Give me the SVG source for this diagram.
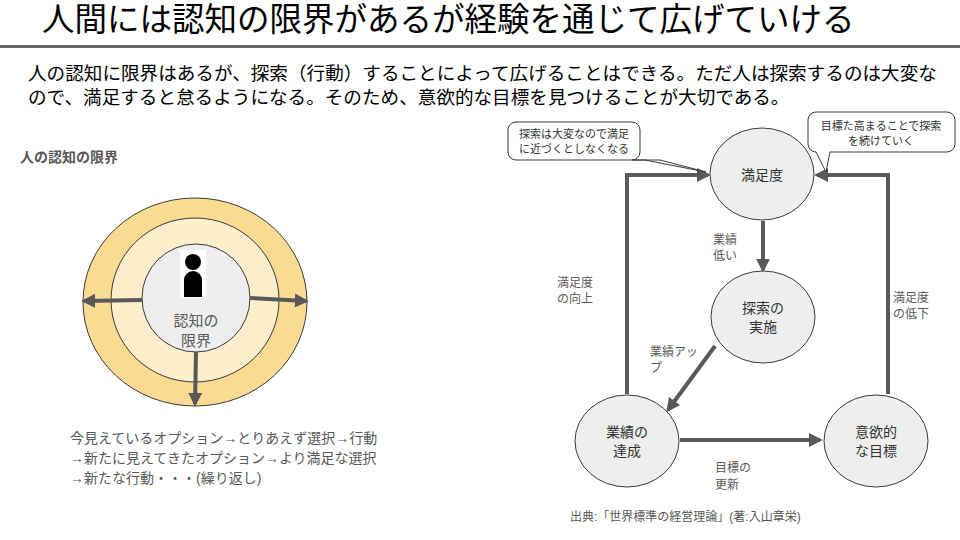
<svg xmlns="http://www.w3.org/2000/svg" width="960" height="540" viewBox="0 0 960 540">
<defs>
<style>
text{font-family:"Liberation Sans","Noto Sans CJK JP",sans-serif;fill:#595959}
.t{fill:#000}
.node{fill:#eeeeee;stroke:#3a3a3a;stroke-width:1}
.c{stroke:#595959;stroke-width:4;fill:none}
.lbl{font-size:12px}
.call{fill:#fff;stroke:#3a3a3a;stroke-width:1}
</style>
<marker id="a" viewBox="0 0 10 10" refX="8" refY="5" markerWidth="3.5" markerHeight="3.5" orient="auto"><path d="M0,0L10,5L0,10z" fill="#595959"/></marker>
</defs>
<rect width="960" height="540" fill="#fff"/>
<text class="t" x="42" y="31" font-size="32.5">人間には認知の限界があるが経験を通じて広げていける</text>
<rect x="0" y="45" width="960" height="3" fill="#666"/>
<text class="t" x="28" y="80" font-size="18.6">人の認知に限界はあるが、探索（行動）することによって広げることはできる。ただ人は探索するのは大変な</text>
<text class="t" x="28" y="104" font-size="18.6">ので、満足すると怠るようになる。そのため、意欲的な目標を見つけることが大切である。</text>
<text x="20" y="162" font-size="14" font-weight="bold">人の認知の限界</text>
<g id="cognition">
<ellipse cx="195" cy="302" rx="112" ry="104" fill="#fbdb92" stroke="#3a3a3a"/>
<ellipse cx="195" cy="300" rx="84" ry="82" fill="#fdefcb" stroke="#3a3a3a"/>
<circle cx="196" cy="298" r="54" class="node"/>
<rect x="180" y="250" width="26" height="48" fill="#fff"/>
<circle cx="193" cy="262" r="8" fill="#000"/>
<path d="M184,297V280a9,9 0 0 1 18,0V297z" fill="#000"/>
<text x="196" y="326" font-size="15" text-anchor="middle">認知の</text>
<text x="196" y="346" font-size="15" text-anchor="middle">限界</text>
<line x1="142" y1="300" x2="84" y2="301" class="c" stroke-width="3" marker-end="url(#a)"/>
<line x1="250" y1="298" x2="306" y2="301" class="c" stroke-width="3" marker-end="url(#a)"/>
<line x1="196" y1="352" x2="195" y2="404" class="c" stroke-width="3" marker-end="url(#a)"/>
</g>
<text x="70" y="443" font-size="14">今見えているオプション→とりあえず選択→行動</text>
<text x="70" y="463" font-size="14">→新たに見えてきたオプション→より満足な選択</text>
<text x="70" y="483" font-size="14">→新たな行動・・・(繰り返し)</text>
<g id="connectors">
<line x1="763" y1="221" x2="763" y2="270" class="c" marker-end="url(#a)"/>
<line x1="715" y1="346" x2="668" y2="410" class="c" marker-end="url(#a)"/>
<line x1="680" y1="440" x2="820" y2="440" class="c" marker-end="url(#a)"/>
<polyline points="627,394 627,175 708,175" class="c" marker-end="url(#a)"/>
<polyline points="888,394 888,175 817,175" class="c" marker-end="url(#a)"/>
</g>
<g class="lbl">
<text x="713" y="244" class="lbl">業績</text><text x="713" y="260" class="lbl">低い</text>
<text x="557" y="287" class="lbl">満足度</text><text x="557" y="303" class="lbl">の向上</text>
<text x="893" y="302" class="lbl">満足度</text><text x="893" y="318" class="lbl">の低下</text>
<text x="650" y="356" class="lbl">業績アッ</text><text x="650" y="372" class="lbl">プ</text>
<text x="715" y="472" class="lbl">目標の</text><text x="715" y="489" class="lbl">更新</text>
</g>
<g id="n1"><ellipse cx="762" cy="174" rx="52" ry="46" class="node"/><text x="762" y="180" font-size="14" text-anchor="middle" style="fill:#333">満足度</text></g>
<g id="n2"><ellipse cx="763" cy="317" rx="52" ry="46" class="node"/><text x="763" y="313" font-size="14" text-anchor="middle" style="fill:#333">探索の</text><text x="763" y="332" font-size="14" text-anchor="middle" style="fill:#333">実施</text></g>
<g id="n3"><ellipse cx="627" cy="441" rx="52" ry="46" class="node"/><text x="627" y="437" font-size="14" text-anchor="middle" style="fill:#333">業績の</text><text x="627" y="456" font-size="14" text-anchor="middle" style="fill:#333">達成</text></g>
<g id="n4"><ellipse cx="876" cy="441" rx="52" ry="46" class="node"/><text x="876" y="437" font-size="14" text-anchor="middle" style="fill:#333">意欲的</text><text x="876" y="456" font-size="14" text-anchor="middle" style="fill:#333">な目標</text></g>
<g id="call1"><path d="M516,122H632a8,8 0 0 1 8,8V152a8,8 0 0 1-8,8H660L706,172L645,160H516a8,8 0 0 1-8-8V130a8,8 0 0 1 8-8z" class="call"/>
<text x="574" y="138" font-size="11" text-anchor="middle" style="fill:#333">探索は大変なので満足</text><text x="574" y="153" font-size="11" text-anchor="middle" style="fill:#333">に近づくとしなくなる</text></g>
<g id="call2"><path d="M816,112H947a8,8 0 0 1 8,8V144a8,8 0 0 1-8,8H830L826,172L816,152a8,8 0 0 1-8-8V120a8,8 0 0 1 8-8z" class="call"/>
<text x="881" y="130" font-size="11" text-anchor="middle" style="fill:#333">目標た高まることで探索</text><text x="881" y="145" font-size="11" text-anchor="middle" style="fill:#333">を続けていく</text></g>
<text x="570" y="521" font-size="12">出典:「世界標準の経営理論」(著:入山章栄)</text>
</svg>
